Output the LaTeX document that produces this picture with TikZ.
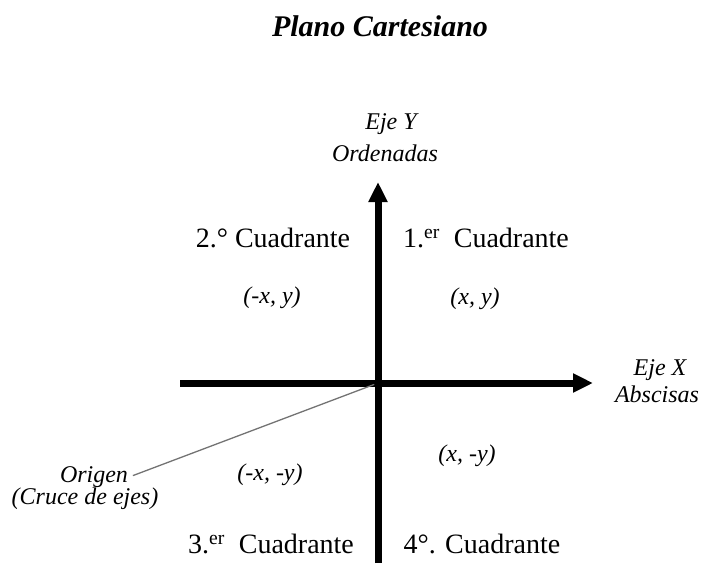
\documentclass[tikz,border=0pt]{standalone}
\usepackage{fontspec}
\setmainfont{Liberation Serif}
\usetikzlibrary{arrows.meta, positioning}

\begin{document}
\begin{tikzpicture}[x=1pt, y=-1pt, >={Triangle[length=20pt, width=18pt]},
  quad/.style={font=\fontsize{28}{30}\selectfont},
  lbl/.style={font=\fontsize{24}{26}\selectfont\itshape, inner sep=1pt},
  axis/.style={line width=7pt, ->}]
  \useasboundingbox (0,0) rectangle (702,563);
  \node[font=\fontsize{30}{32}\selectfont\bfseries\itshape] (title) at (380,26) {Plano Cartesiano};
  % Axes
  \coordinate (o) at (378,383);
  \coordinate (xl) at (180,383);
  \coordinate (xr) at (593,383);
  \coordinate (yb) at (378,563);
  \coordinate (yt) at (378,182);
  \draw[axis] (xl) -- (xr);
  \draw[axis] (yb) -- (yt);
  % Axis names
  \node[lbl] (ejey) at (391,124) {Eje Y};
  \node[lbl] (ordenadas) at (385,153) {Ordenadas};
  \node[lbl] (ejex) at (660,370) {Eje X};
  \node[lbl] (abscisas) at (657,394) {Abscisas};
  % Quadrants
  \node[quad] (q2) at (273,238) {2.° Cuadrante};
  \node[quad] (q1) at (486,238) {1.\textsuperscript{er}\ \ Cuadrante};
  \node[quad] (q3) at (271,544) {3.\textsuperscript{er}\ \ Cuadrante};
  \node[quad] (q4) at (482,544) {4°. Cuadrante};
  % Signs
  \node[lbl] (p2) at (272,298) {(-x, y)};
  \node[lbl] (p1) at (475,299) {(x, y)};
  \node[lbl] (p3) at (270,475) {(-x, -y)};
  \node[lbl] (p4) at (467,456) {(x, -y)};
  % Origin
  \node[lbl] (origen) at (94,477) {Origen};
  \node[lbl] (cruce) at (85,499) {(Cruce de ejes)};
  \draw[black!55, line width=1.3pt, shorten <=4pt, shorten >=4pt] (origen.east) -- (o);
\end{tikzpicture}
\end{document}
